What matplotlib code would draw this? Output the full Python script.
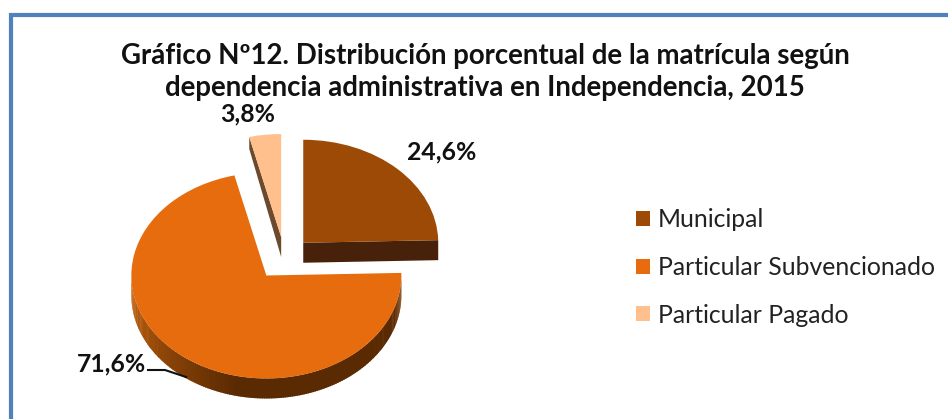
import numpy as np
import matplotlib
matplotlib.use('Agg')
import matplotlib.pyplot as plt
from matplotlib.patches import Polygon
from matplotlib.colors import to_rgb

plt.rcParams['font.family'] = ['Lato', 'DejaVu Sans']

# data
categories = ['Municipal', 'Particular Subvencionado', 'Particular Pagado']
values = [24.6, 71.6, 3.8]
value_labels = ['24,6%', '71,6%', '3,8%']
explode = [0.2, 0.22, 0.2]
colors = ['#9C4A06', '#E66C0D', '#FFC08D']
title = 'Gráfico Nº12. Distribución porcentual de la matrícula según\ndependencia administrativa en Independencia, 2015'

W, H = 948, 419
rx, ry = 135, 103     # pie radius in pixels, x and y (tilted view)
cx, cy = 284.4, 257.5 # pie centre in pixels
depth = 20 / ry


def px(x, y):
    return x / W, 1 - y / H


def mix(c1, c2, t):
    c1, c2 = np.array(to_rgb(c1)), np.array(to_rgb(c2))
    return tuple(c1 + (c2 - c1) * t)


fig = plt.figure(figsize=(W / 100, H / 100), dpi=100)
ax = fig.add_axes([0, 0, 1, 1])
wedges, _ = ax.pie(values, explode=explode, colors=colors, startangle=90,
                   counterclock=False, radius=1, wedgeprops={'linewidth': 0, 'zorder': 5})
ax.set_aspect('auto')
ax.set_xlim(-cx / rx, (W - cx) / rx)
ax.set_ylim(-(H - cy) / ry, cy / ry)
ax.axis('off')

# rim of the big slice, colour follows the angle
orange = wedges[1]
ox, oy = orange.center
angles = np.linspace(180, 360, 181)
for a0, a1 in zip(angles[:-1], angles[1:]):
    if a0 < 257:
        col = mix('#C8640E', '#5A2A02', (a0 - 180) / 77)
    elif a0 < 340:
        col = '#5A2A02'
    else:
        col = mix('#5A2A02', '#8A4A12', (a0 - 340) / 20)
    xs = ox + np.cos(np.radians([a0, a1 + 0.5, a1 + 0.5, a0]))
    ys = oy + np.sin(np.radians([a0, a1 + 0.5, a1 + 0.5, a0])) - np.array([0, 0, depth, depth])
    ax.add_patch(Polygon(np.column_stack([xs, ys]), closed=True, fc=col, ec='none', zorder=2))

# cut face of the municipal slice
muni = wedges[0]
mx, my = muni.center
t = np.radians(muni.theta1)
ax.add_patch(Polygon([(mx, my), (mx + np.cos(t), my + np.sin(t)),
                      (mx + np.cos(t), my + np.sin(t) - depth), (mx, my - depth)],
                     closed=True, fc='#47210A', ec='none', zorder=2))

# cut face of the small slice
pag = wedges[2]
gx, gy = pag.center
t = np.radians(pag.theta2)
ax.add_patch(Polygon([(gx, gy), (gx + np.cos(t), gy + np.sin(t)),
                      (gx + np.cos(t), gy + np.sin(t) - depth * 0.6), (gx, gy - depth)],
                     closed=True, fc='#6B4A2E', ec='none', zorder=2))

# frame, only top and left show in the crop
fig.add_artist(plt.Line2D([11 / W, 11 / W, 1], [0, 1 - 15 / H, 1 - 15 / H], color='#4F81BD', lw=3,
                          transform=fig.transFigure, solid_joinstyle='miter'))

fig.text(*px(485, 72), title, ha='center', va='center', fontsize=19.9, fontweight='bold',
         color='#111111', linespacing=1.27)

fig.text(*px(442, 152), value_labels[0], ha='center', va='center', fontsize=17.8, fontweight='bold', color='#111111')
fig.text(*px(112, 364), value_labels[1], ha='center', va='center', fontsize=17.8, fontweight='bold', color='#111111')
fig.text(*px(248, 114), value_labels[2], ha='center', va='center', fontsize=17.8, fontweight='bold', color='#111111')

# leader line
lx = [148, 165, 186]
ly = [370, 370, 377]
fig.add_artist(plt.Line2D([x / W for x in lx], [1 - y / H for y in ly], color='#111111', lw=1.5,
                          transform=fig.transFigure))

leg = ax.legend(wedges, categories, loc='upper left', bbox_to_anchor=px(614, 186),
                bbox_transform=fig.transFigure, frameon=False, fontsize=17.8,
                handlelength=0.56, handleheight=0.56, handletextpad=0.32, labelspacing=1.0,
                labelcolor='#222222')

fig.savefig('out.png', dpi=100)
